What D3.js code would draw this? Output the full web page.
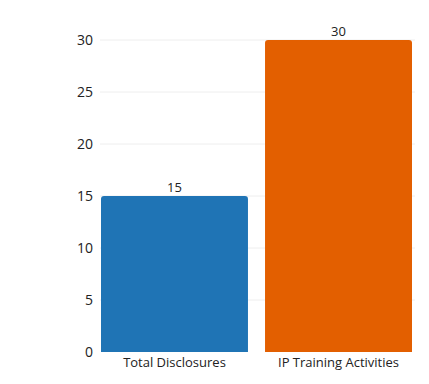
<!DOCTYPE html>
<html><head><meta charset="utf-8">
<script src="https://cdn.jsdelivr.net/npm/d3@7"></script>
<style>body{margin:0;background:#fff}svg{display:block}text{font-family:"Open Sans",sans-serif;fill:#222}</style>
</head><body>
<svg id="c" width="429" height="384"></svg>
<script>
const categories = ["Total Disclosures", "IP Training Activities"];
const values = [15, 30];
const colors = ["#1f74b5", "#e35f00"];
const yTicks = [0, 5, 10, 15, 20, 25, 30];

(function () {
const svg = d3.select("#c");
const mLeft = 101, mRight = 412, mTop = 40, mBottom = 352;
const x = d3.scaleBand().domain(categories).range([mLeft, mRight]).paddingInner(0.104).paddingOuter(0);
const y = d3.scaleLinear().domain([0, 30]).range([mBottom, mTop]);

// gridlines
svg.append("g").selectAll("line").data(yTicks.filter(d => d > 0)).join("line")
  .attr("x1", mLeft - 1).attr("x2", mRight + 3)
  .attr("y1", d => y(d)).attr("y2", d => y(d))
  .attr("stroke", "#eeeeee").attr("stroke-width", 1);

// y axis
const ya = svg.append("g").attr("transform", `translate(${mLeft - 8},0)`)
  .call(d3.axisLeft(y).tickValues(yTicks).tickSize(0).tickPadding(0));
ya.select(".domain").remove();
ya.selectAll("text").style("font-size", "14px").attr("fill", "#222");

// bars with rounded top corners
const r = 3;
svg.append("g").selectAll("path").data(categories).join("path")
  .attr("fill", (d, i) => colors[i])
  .attr("d", (d, i) => {
    const x0 = x(d), w = x.bandwidth(), y0 = y(values[i]), y1 = y(0);
    return `M${x0},${y1}V${y0 + r}Q${x0},${y0} ${x0 + r},${y0}H${x0 + w - r}Q${x0 + w},${y0} ${x0 + w},${y0 + r}V${y1}Z`;
  });

// value labels
svg.append("g").selectAll("text").data(categories).join("text")
  .attr("x", d => x(d) + x.bandwidth() / 2)
  .attr("y", (d, i) => y(values[i]) - 4)
  .attr("text-anchor", "middle").style("font-size", "13px")
  .text((d, i) => values[i]);

// x axis
const xa = svg.append("g").attr("transform", `translate(0,${mBottom})`)
  .call(d3.axisBottom(x).tickSize(0).tickPadding(6));
xa.select(".domain").remove();
xa.selectAll("text").style("font-size", "13px").attr("fill", "#222");
})();
</script>
</body></html>
